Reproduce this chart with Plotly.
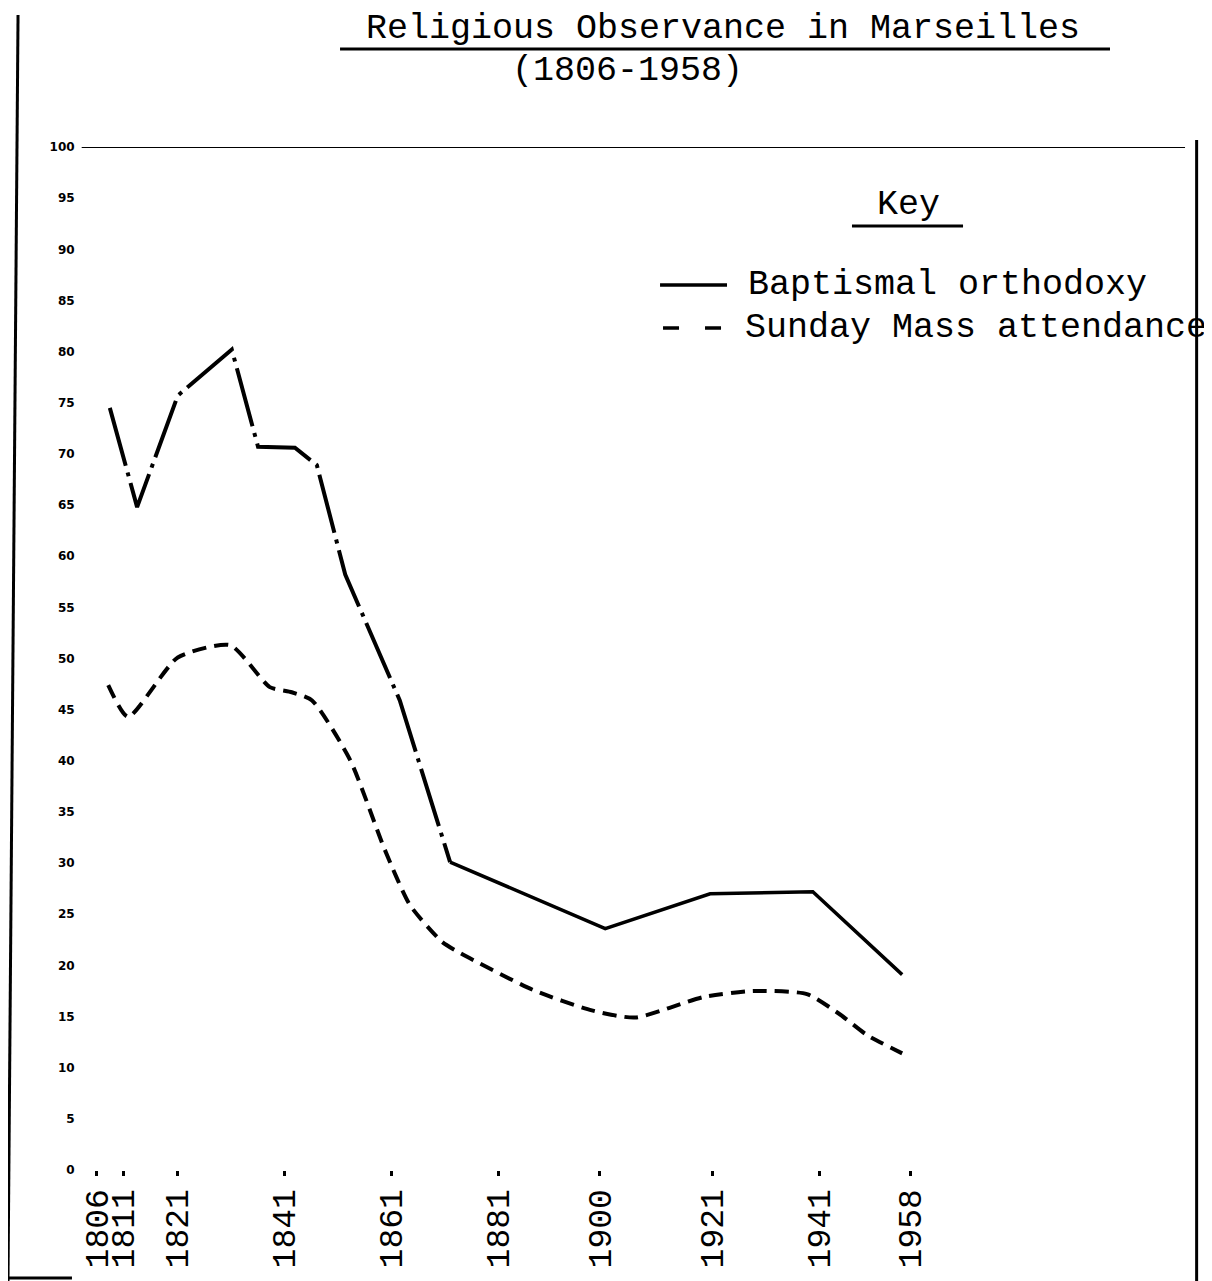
import plotly.graph_objects as go

# ---- data ----
bapt_years = [1808.4, 1813.5, 1821.1, 1831.2, 1836.1, 1843.0, 1847.1, 1852.4, 1862.6, 1872.0,
              1901.0, 1920.6, 1939.8, 1956.5]
bapt_vals = [74.5, 64.8, 75.7, 80.2, 70.7, 70.6, 68.9, 58.2, 45.9, 30.1,
             23.6, 27.0, 27.2, 19.1]

mass_years = [1808.1, 1811.8, 1821.1, 1830.9, 1838.3, 1842.4, 1846.2, 1853.3, 1859.8, 1864.5,
              1870.5, 1873.9, 1887.5, 1898.5, 1906.6, 1919.3, 1928.6, 1938.7, 1944.9, 1949.9, 1956.5]
mass_vals = [47.4, 44.3, 50.1, 51.3, 47.2, 46.7, 45.9, 40.1, 31.3, 25.9,
             22.3, 21.2, 17.6, 15.6, 14.9, 16.9, 17.5, 17.2, 15.2, 13.2, 11.4]

tick_years = [1806, 1811, 1821, 1841, 1861, 1881, 1900, 1921, 1941, 1958]
tick_labels = [str(y) for y in tick_years]
y_ticks = list(range(0, 101, 5))
y_labels = [str(v) for v in y_ticks]

title_line1 = "Religious Observance in Marseilles"
title_line2 = "(1806-1958)"
key_title = "Key"
series_names = ["Baptismal orthodoxy", "Sunday Mass attendance"]

MONO = "Liberation Mono"
split_year = 1872.0
mass_dash = "14px,8px"

early_x = [x for x in bapt_years if x <= split_year]
early_y = bapt_vals[:len(early_x)]
late_x = bapt_years[len(early_x) - 1:]
late_y = bapt_vals[len(early_x) - 1:]

fig = go.Figure()
fig.add_trace(go.Scatter(
    x=early_x, y=early_y, mode="lines", name=series_names[0], showlegend=False,
    line=dict(color="black", width=4, dash="60px,7px,4px,7px"),
))
fig.add_trace(go.Scatter(
    x=late_x, y=late_y, mode="lines", name=series_names[0], showlegend=False,
    line=dict(color="black", width=3.5),
))
fig.add_trace(go.Scatter(
    x=mass_years, y=mass_vals, mode="lines", name=series_names[1], showlegend=False,
    line=dict(color="black", width=4, dash=mass_dash, shape="spline", smoothing=0.6),
))

txt = dict(family=MONO, size=35, color="black")

fig.update_layout(
    width=1204, height=1273,
    margin=dict(l=77, r=22, t=139, b=111, autoexpand=False),
    paper_bgcolor="white", plot_bgcolor="white",
    font=dict(family=MONO, color="black"),
    showlegend=False,
    xaxis=dict(
        range=[1803.76, 2010.3], showgrid=False, zeroline=False, showline=False,
        tickmode="array", tickvals=tick_years, ticktext=tick_labels,
        tickangle=-90, ticks="outside", ticklen=5, tickwidth=3, tickcolor="black",
        tickfont=dict(family=MONO, size=33, color="black"),
    ),
    yaxis=dict(
        range=[0, 100], showgrid=False, zeroline=False, showline=False,
        tickmode="array", tickvals=y_ticks, ticktext=y_labels,
        ticks="outside", ticklen=7, tickcolor="rgba(0,0,0,0)",
        tickfont=dict(family="DejaVu Sans", size=12, color="black", weight="bold"),
    ),
    annotations=[
        dict(text=title_line1, xref="paper", yref="paper", x=0.5774, y=1.1153,
             xanchor="center", yanchor="middle", showarrow=False, font=txt),
        dict(text=title_line2, xref="paper", yref="paper", x=0.4914, y=1.0743,
             xanchor="center", yanchor="middle", showarrow=False, font=txt),
        dict(text=key_title, xref="paper", yref="paper", x=0.7448, y=0.9433,
             xanchor="center", yanchor="middle", showarrow=False, font=txt),
        dict(text=series_names[0], xref="paper", yref="paper", x=0.5985, y=0.8651,
             xanchor="left", yanchor="middle", showarrow=False, font=txt),
        dict(text=series_names[1], xref="paper", yref="paper", x=0.5958, y=0.8231,
             xanchor="left", yanchor="middle", showarrow=False, font=txt),
    ],
    shapes=[
        # title underline
        dict(type="line", xref="paper", yref="paper", x0=0.2308, x1=0.9276, y0=1.0958, y1=1.0958,
             line=dict(color="black", width=3)),
        # key underline
        dict(type="line", xref="paper", yref="paper", x0=0.6941, x1=0.7946, y0=0.9228, y1=0.9228,
             line=dict(color="black", width=3)),
        # key samples
        dict(type="line", xref="paper", yref="paper", x0=0.5204, x1=0.5810, y0=0.8651, y1=0.8651,
             line=dict(color="black", width=3.5)),
        dict(type="line", xref="paper", yref="paper", x0=0.5231, x1=0.5765, y0=0.8231, y1=0.8231,
             line=dict(color="black", width=3.5, dash="16px,26px")),
        # top line at 100
        dict(type="line", xref="paper", yref="y", x0=-0.003, x1=0.9955, y0=100, y1=100,
             line=dict(color="black", width=2)),
        # page frame lines
        dict(type="line", xref="paper", yref="paper", x0=-0.0606, x1=-0.0697, y0=1.129, y1=-0.1085,
             line=dict(color="black", width=3)),
        dict(type="line", xref="paper", yref="paper", x0=1.006, x1=1.006, y0=1.0068, y1=-0.1085,
             line=dict(color="black", width=3)),
        dict(type="line", xref="paper", yref="paper", x0=-0.0697, x1=-0.0118, y0=-0.1056, y1=-0.1056,
             line=dict(color="black", width=3)),
    ],
)

fig.write_html("out.html")
